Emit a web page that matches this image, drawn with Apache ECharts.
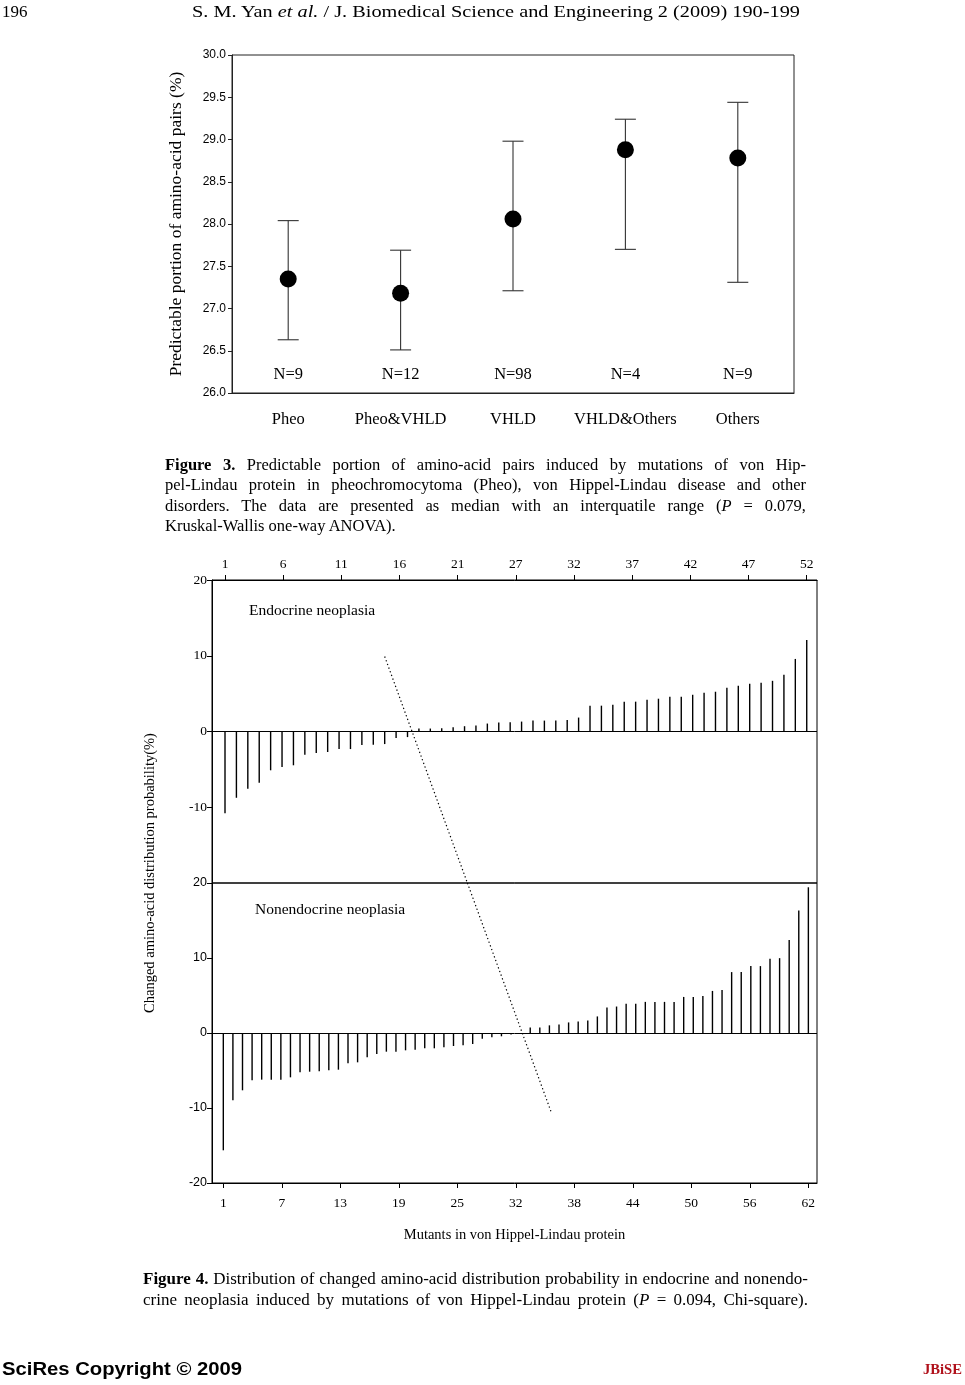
<!DOCTYPE html>
<html><head><meta charset="utf-8">
<script src="https://cdn.jsdelivr.net/npm/echarts@6/dist/echarts.min.js"></script>
<style>
html,body{margin:0;padding:0;background:#fff;width:965px;height:1385px;overflow:hidden;}
#chart{position:absolute;left:0;top:0;width:965px;height:1385px;}
.t{position:absolute;font-family:"Liberation Serif","Times New Roman",serif;color:#000;white-space:nowrap;line-height:20px;}
.fit{display:inline-block;transform-origin:0 50%;}
</style></head><body>
<div id="chart"></div>

<div class="t" style="left:2px;top:2px;font-size:17px;">196</div>
<div class="t" style="left:192px;top:2px;font-size:17px;"><span class="fit" data-w="608">S. M. Yan <i>et al.</i> / J. Biomedical Science and Engineering 2 (2009) 190-199</span></div>

<div class="t" style="left:165px;top:455px;font-size:16.5px;line-height:20.4px;">
<div><span class="fit" data-w="641" data-j="1"><b>Figure 3.</b> Predictable portion of amino-acid pairs induced by mutations of von Hip-</span></div>
<div><span class="fit" data-w="641" data-j="1">pel-Lindau protein in pheochromocytoma (Pheo), von Hippel-Lindau disease and other</span></div>
<div><span class="fit" data-w="641" data-j="1">disorders. The data are presented as median with an interquatile range (<i>P</i> = 0.079,</span></div>
<div><span>Kruskal-Wallis one-way ANOVA).</span></div>
</div>

<div class="t" style="left:143px;top:1268px;font-size:17px;line-height:21px;">
<div><span class="fit" data-w="665" data-j="1"><b>Figure 4.</b> Distribution of changed amino-acid distribution probability in endocrine and nonendo-</span></div>
<div><span class="fit" data-w="665" data-j="1">crine neoplasia induced by mutations of von Hippel-Lindau protein (<i>P</i> = 0.094, Chi-square).</span></div>
</div>

<div class="t" style="left:2px;top:1358px;font-family:'Liberation Sans',Arial,sans-serif;font-weight:bold;font-size:18px;line-height:22px;"><span class="fit" data-w="240">SciRes Copyright © 2009</span></div>
<div class="t" style="left:923px;top:1359px;font-weight:bold;font-size:15px;color:#b0101a;"><span class="fit" data-w="39">JBiSE</span></div>

<script>
// ---------- Figure 3 data ----------
const fig3Categories = ['Pheo', 'Pheo&VHLD', 'VHLD', 'VHLD&Others', 'Others'];
const fig3Median = [27.35, 27.18, 28.06, 28.88, 28.78];
const fig3Lower = [26.63, 26.51, 27.21, 27.70, 27.31];
const fig3Upper = [28.04, 27.69, 28.98, 29.24, 29.44];
const fig3N = ['N=9', 'N=12', 'N=98', 'N=4', 'N=9'];

// ---------- Figure 4 data ----------
const endocrineValues = [-10.8, -8.75, -7.56, -6.78, -5.12, -4.68, -4.46, -3.06, -2.84, -2.71,
  -2.32, -2.32, -1.79, -1.75, -1.66, -0.87, -0.74, 0.39, 0.39, 0.44,
  0.57, 0.7, 0.79, 1.05, 1.18, 1.22, 1.31, 1.44, 1.44, 1.44,
  1.53, 1.84, 3.41, 3.41, 3.54, 3.94, 3.94, 4.2, 4.33, 4.59,
  4.59, 4.85, 5.12, 5.25, 5.77, 6.03, 6.3, 6.43, 6.69, 7.48,
  9.58, 12.07];
const nonendocrineValues = [-15.64, -8.98, -7.64, -6.31, -6.22, -6.22, -6.22, -5.91, -5.24, -5.16,
  -5.11, -4.98, -4.89, -4.04, -3.91, -3.24, -2.8, -2.49, -2.49, -2.31,
  -2.22, -2.04, -2.04, -1.91, -1.73, -1.64, -1.47, -0.76, -0.58, -0.44,
  -0.2, -0.1, 0.75, 0.75, 1.02, 1.15, 1.41, 1.55, 1.68, 2.21,
  3.4, 3.53, 3.89, 3.89, 4.15, 4.15, 4.15, 4.15, 4.81, 4.81,
  4.94, 5.61, 5.74, 8.12, 8.12, 8.92, 8.92, 9.89, 9.98, 12.41,
  16.34, 19.43];
const topTickLabels = [1, 6, 11, 16, 21, 27, 32, 37, 42, 47, 52];
const bottomTickLabels = [1, 7, 13, 19, 25, 32, 38, 44, 50, 56, 62];
const topTrend = [[15.0, 9.9], [22.25, -20]];
const bottomTrend = [[26.45, 20], [35.2, -10.6]];

// evenly spaced tick positions between first and last mutant
function tickPositions(labels, n) {
  const step = (n - 1) / (labels.length - 1);
  return labels.map((_, i) => +(1 + i * step).toFixed(4));
}
const topTickPos = tickPositions(topTickLabels, endocrineValues.length);
const bottomTickPos = tickPositions(bottomTickLabels, nonendocrineValues.length);
function nearestLabel(v, pos, labels) {
  let b = 0;
  pos.forEach((p, i) => { if (Math.abs(p - v) < Math.abs(pos[b] - v)) b = i; });
  return String(labels[b]);
}

const SERIF = 'Liberation Serif';
const SANS = 'Liberation Sans';

const chart = echarts.init(document.getElementById('chart'), null, { renderer: 'canvas' });

const option = {
  animation: false,
  backgroundColor: '#fff',
  grid: [
    { left: 232, top: 55, width: 562, height: 338, show: true, borderColor: '#222', borderWidth: 1, backgroundColor: 'transparent' },
    { left: 212, top: 580, width: 605, height: 303, show: true, borderColor: '#000', borderWidth: 1, backgroundColor: 'transparent' },
    { left: 212, top: 883, width: 605, height: 300, show: true, borderColor: '#000', borderWidth: 1, backgroundColor: 'transparent' }
  ],
  xAxis: [
    {
      gridIndex: 0, type: 'category', data: fig3Categories, boundaryGap: true,
      axisLine: { onZero: false, lineStyle: { color: '#222', width: 1 } },
      axisTick: { alignWithLabel: true, length: 5, lineStyle: { color: '#222' } },
      axisLabel: { interval: 0, fontFamily: SERIF, fontSize: 16.5, color: '#000', margin: 18 },
      splitLine: { show: false }
    },
    {
      gridIndex: 1, type: 'value', position: 'top', min: -0.14, max: 52.9,
      axisLine: { onZero: false, lineStyle: { color: '#000', width: 1 } },
      axisTick: { length: 5, customValues: topTickPos, lineStyle: { color: '#000' } },
      axisLabel: {
        customValues: topTickPos, fontFamily: SERIF, fontSize: 13.5, color: '#000', margin: 9,
        formatter: v => nearestLabel(v, topTickPos, topTickLabels)
      },
      splitLine: { show: false }
    },
    {
      gridIndex: 2, type: 'value', position: 'bottom', min: -0.18, max: 62.9,
      name: 'Mutants in von Hippel-Lindau protein', nameLocation: 'middle', nameGap: 45,
      nameTextStyle: { fontFamily: SERIF, fontSize: 14.5, color: '#000' },
      axisLine: { onZero: false, lineStyle: { color: '#000', width: 1 } },
      axisTick: { length: 5, customValues: bottomTickPos, lineStyle: { color: '#000' } },
      axisLabel: {
        customValues: bottomTickPos, fontFamily: SERIF, fontSize: 13.5, color: '#000', margin: 13,
        formatter: v => nearestLabel(v, bottomTickPos, bottomTickLabels)
      },
      splitLine: { show: false }
    }
  ],
  yAxis: [
    {
      gridIndex: 0, type: 'value', min: 26, max: 30, interval: 0.5,
      name: 'Predictable portion of amino-acid pairs (%)', nameLocation: 'middle', nameGap: 47,
      nameTextStyle: { fontFamily: SERIF, fontSize: 17.5, color: '#000' },
      axisLine: { show: true, onZero: false, lineStyle: { color: '#222', width: 1 } },
      axisTick: { show: true, length: 4, lineStyle: { color: '#222' } },
      axisLabel: { fontFamily: SANS, fontSize: 12, color: '#000', margin: 6, formatter: v => v.toFixed(1) },
      splitLine: { show: false }
    },
    {
      gridIndex: 1, type: 'value', min: -20, max: 20, interval: 10,
      axisLine: { show: true, onZero: false, lineStyle: { color: '#000', width: 1 } },
      axisTick: { show: true, length: 5, lineStyle: { color: '#000' } },
      axisLabel: { fontFamily: SERIF, fontSize: 13.5, color: '#000', margin: 5, formatter: v => (v === -20 ? '' : String(v)) },
      splitLine: { show: false }
    },
    {
      gridIndex: 2, type: 'value', min: -20, max: 20, interval: 10,
      axisLine: { show: true, onZero: false, lineStyle: { color: '#000', width: 1 } },
      axisTick: { show: true, length: 5, lineStyle: { color: '#000' } },
      axisLabel: { fontFamily: SANS, fontSize: 12.5, color: '#000', margin: 5 },
      splitLine: { show: false }
    }
  ],
  series: [
    // Figure 3 error bars
    {
      type: 'custom', xAxisIndex: 0, yAxisIndex: 0, z: 2,
      data: fig3Categories.map((c, i) => [i, fig3Lower[i], fig3Upper[i]]),
      renderItem: (params, api) => {
        const x = api.value(0);
        const lo = api.coord([x, api.value(1)]);
        const hi = api.coord([x, api.value(2)]);
        const hw = 10.5;
        const st = { stroke: '#333', lineWidth: 1.1 };
        return {
          type: 'group', children: [
            { type: 'line', shape: { x1: lo[0], y1: lo[1], x2: hi[0], y2: hi[1] }, style: st },
            { type: 'line', shape: { x1: lo[0] - hw, y1: lo[1], x2: lo[0] + hw, y2: lo[1] }, style: st },
            { type: 'line', shape: { x1: hi[0] - hw, y1: hi[1], x2: hi[0] + hw, y2: hi[1] }, style: st }
          ]
        };
      }
    },
    // Figure 3 medians
    {
      type: 'scatter', xAxisIndex: 0, yAxisIndex: 0, z: 3,
      data: fig3Median, symbol: 'circle', symbolSize: 17,
      itemStyle: { color: '#000', opacity: 1 }
    },
    // Figure 3 N labels
    {
      type: 'custom', xAxisIndex: 0, yAxisIndex: 0, z: 3,
      data: fig3N.map((n, i) => [i, 26.22]),
      renderItem: (params, api) => {
        const p = api.coord([api.value(0), api.value(1)]);
        return {
          type: 'text', x: p[0], y: p[1],
          style: { text: fig3N[params.dataIndex], fill: '#000', font: '16.5px "Liberation Serif"', textAlign: 'center', textVerticalAlign: 'middle' }
        };
      }
    },
    // Figure 4 endocrine bars
    {
      type: 'bar', xAxisIndex: 1, yAxisIndex: 1, barWidth: 1.4,
      data: endocrineValues.map((v, i) => [i + 1, v]),
      itemStyle: { color: '#000' },
      markLine: {
        silent: true, symbol: 'none', label: { show: false },
        lineStyle: { color: '#000', width: 1, type: 'solid' },
        data: [{ yAxis: 0 }]
      }
    },
    {
      type: 'line', xAxisIndex: 1, yAxisIndex: 1, data: topTrend, symbol: 'none',
      lineStyle: { color: '#000', width: 1.2, type: [1.3, 2.6] }
    },
    // Figure 4 nonendocrine bars
    {
      type: 'bar', xAxisIndex: 2, yAxisIndex: 2, barWidth: 1.4,
      data: nonendocrineValues.map((v, i) => [i + 1, v]),
      itemStyle: { color: '#000' },
      markLine: {
        silent: true, symbol: 'none', label: { show: false },
        lineStyle: { color: '#000', width: 1, type: 'solid' },
        data: [{ yAxis: 0 }]
      }
    },
    {
      type: 'line', xAxisIndex: 2, yAxisIndex: 2, data: bottomTrend, symbol: 'none',
      lineStyle: { color: '#000', width: 1.2, type: [1.3, 2.6] }
    }
  ],
  graphic: [
    { type: 'text', x: 249, y: 611, style: { text: 'Endocrine neoplasia', font: '15.5px "Liberation Serif"', fill: '#000', textVerticalAlign: 'middle' } },
    { type: 'text', x: 255, y: 910, style: { text: 'Nonendocrine neoplasia', font: '15.5px "Liberation Serif"', fill: '#000', textVerticalAlign: 'middle' } },
    { type: 'text', x: 150, y: 873, rotation: Math.PI / 2, style: { text: 'Changed amino-acid distribution probability(%)', font: '14.5px "Liberation Serif"', fill: '#000', textAlign: 'center', textVerticalAlign: 'middle' } }
  ]
};
chart.setOption(option);

// fit text lines to their reference widths
document.querySelectorAll('.fit').forEach(el => {
  const w = +el.dataset.w;
  const nat = el.getBoundingClientRect().width;
  if (el.dataset.j && nat < w) {
    el.style.width = w + 'px';
    el.style.textAlign = 'justify';
    el.style.textAlignLast = 'justify';
  } else if (nat > 0) {
    el.style.transform = 'scaleX(' + (w / nat) + ')';
  }
});
</script>
</body></html>
